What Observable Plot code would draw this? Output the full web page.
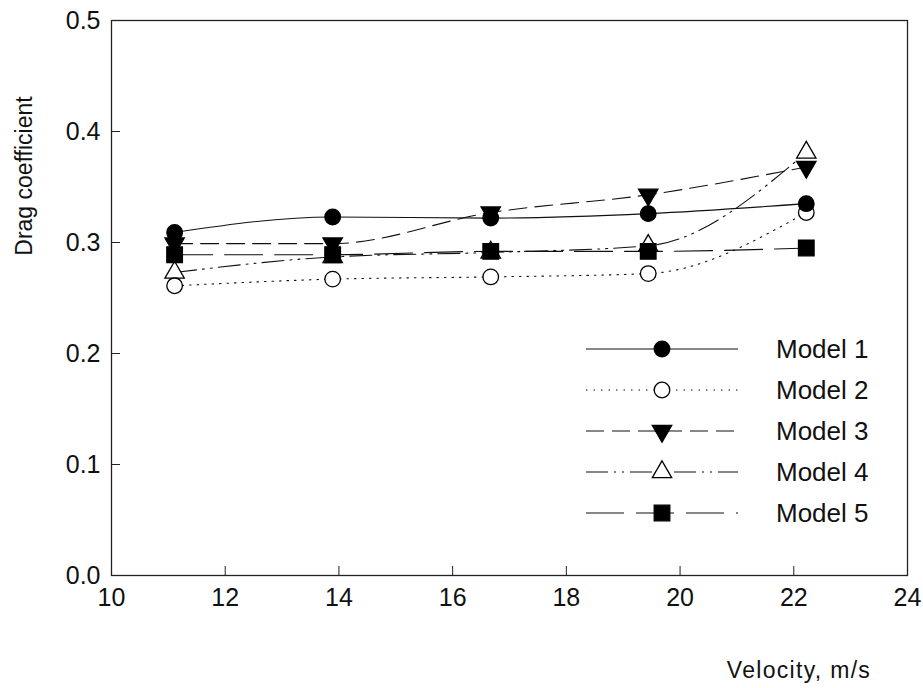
<!DOCTYPE html>
<html>
<head>
<meta charset="utf-8">
<script src="https://cdn.jsdelivr.net/npm/d3@7"></script>
<script src="https://cdn.jsdelivr.net/npm/@observablehq/plot@0.6"></script>
<style>
  html, body { margin: 0; padding: 0; background: #fff; }
  #chart { width: 923px; height: 688px; }
  #chart g[aria-label$="tick label"] text { font-size: 25px !important; }
</style>
</head>
<body>
<div id="chart"></div>
<script>
// ---- data ----
const velocity = [11.11, 13.89, 16.67, 19.44, 22.22];
const modelNames = ["Model 1", "Model 2", "Model 3", "Model 4", "Model 5"];
const model1 = [0.309, 0.323, 0.322, 0.326, 0.335];
const model2 = [0.261, 0.267, 0.269, 0.272, 0.327];
const model3 = [0.299, 0.299, 0.327, 0.343, 0.368];
const model4 = [0.273, 0.287, 0.291, 0.297, 0.381];
const model5 = [0.289, 0.289, 0.292, 0.292, 0.295];
const xTicks = [10, 12, 14, 16, 18, 20, 22, 24];
const yTicks = [0.0, 0.1, 0.2, 0.3, 0.4, 0.5];
const xLabel = "Velocity, m/s";
const yLabel = "Drag coefficient";

// ---- styles ----
const styles = [
  {symbol: "circle",   fill: "black", rotate: 0,   r: 7.8, dash: null},
  {symbol: "circle",   fill: "white", rotate: 0,   r: 7.8, dash: "1.5,6"},
  {symbol: "triangle", fill: "black", rotate: 180, r: 7.2, dash: "18,8"},
  {symbol: "triangle", fill: "white", rotate: 0,   r: 7.2, dash: "22,6,2,6,2,6"},
  {symbol: "square",   fill: "black", rotate: 0,   r: 8.8, dash: "38,12"}
];

const series = [model1, model2, model3, model4, model5];
const rows = series.map((vals, i) => velocity.map((v, j) => ({model: modelNames[i], idx: i, v, cd: vals[j]})));

const font = "'Liberation Sans', Arial, sans-serif";

const lineMarks = rows.map((d, i) => Plot.line(d, {
  x: "v", y: "cd", stroke: "#111", strokeWidth: 1.1,
  strokeDasharray: styles[i].dash, curve: "monotone-x"
}));
const dotOrder = [2, 3, 4, 1, 0];
const dotMarks = dotOrder.map(i => Plot.dot(rows[i], {
  x: "v", y: "cd", symbol: () => styles[i].symbol, r: styles[i].r,
  fill: styles[i].fill, stroke: "black", strokeWidth: 1.3, rotate: styles[i].rotate
}));

const chart = Plot.plot({
  width: 923,
  height: 688,
  marginLeft: 111,
  marginRight: 16,
  marginTop: 20,
  marginBottom: 113,
  style: {fontFamily: font, fontSize: "25px", color: "#111", background: "white"},
  x: {domain: [10, 24]},
  y: {domain: [0, 0.5]},
  symbol: {type: "identity"},
  marks: [
    ...lineMarks,
    ...dotMarks,
    Plot.axisX({ticks: xTicks, tickFormat: d3.format("d"), tickSize: -9, tickPadding: 22, label: null, fontSize: 25, stroke: "#222"}),
    Plot.axisY({ticks: yTicks, tickFormat: d3.format(".1f"), tickSize: -9, tickPadding: 20, label: null, fontSize: 25, stroke: "#222"}),
    Plot.frame({stroke: "#222", strokeWidth: 1.3})
  ]
});
document.getElementById("chart").appendChild(chart);

// ---- labels and legend ----
const svg = d3.select(chart);
svg.selectAll('g[aria-label$="tick label"]').attr("font-size", 25).style("font-size", "25px");
svg.append("text")
  .attr("transform", "translate(32,176) rotate(-90)")
  .attr("text-anchor", "middle")
  .style("font-family", font).style("font-size", "23px")
  .attr("fill", "#111")
  .text(yLabel);
svg.append("text")
  .attr("x", 799).attr("y", 678)
  .attr("text-anchor", "middle")
  .style("font-family", font).style("font-size", "23px").style("letter-spacing", "1.3px")
  .attr("fill", "#111")
  .text(xLabel);

const leg = svg.append("g");
modelNames.forEach((name, i) => {
  const y = 349 + i * 41;
  const s = styles[i];
  leg.append("line").attr("x1", 586).attr("x2", 738).attr("y1", y).attr("y2", y)
    .attr("stroke", "#111").attr("stroke-width", 1.1)
    .attr("stroke-dasharray", s.dash);
  const sym = {circle: d3.symbolCircle, triangle: d3.symbolTriangle, square: d3.symbolSquare}[s.symbol];
  leg.append("path")
    .attr("d", d3.symbol(sym, Math.PI * s.r * s.r)())
    .attr("transform", `translate(662,${y}) rotate(${s.rotate})`)
    .attr("fill", s.fill).attr("stroke", "black").attr("stroke-width", 1.3);
  leg.append("text").attr("x", 776).attr("y", y).attr("dy", "0.35em")
    .attr("text-anchor", "start")
    .style("font-family", font).style("font-size", "26px")
    .attr("fill", "#111")
    .text(name);
});
</script>
</body>
</html>
